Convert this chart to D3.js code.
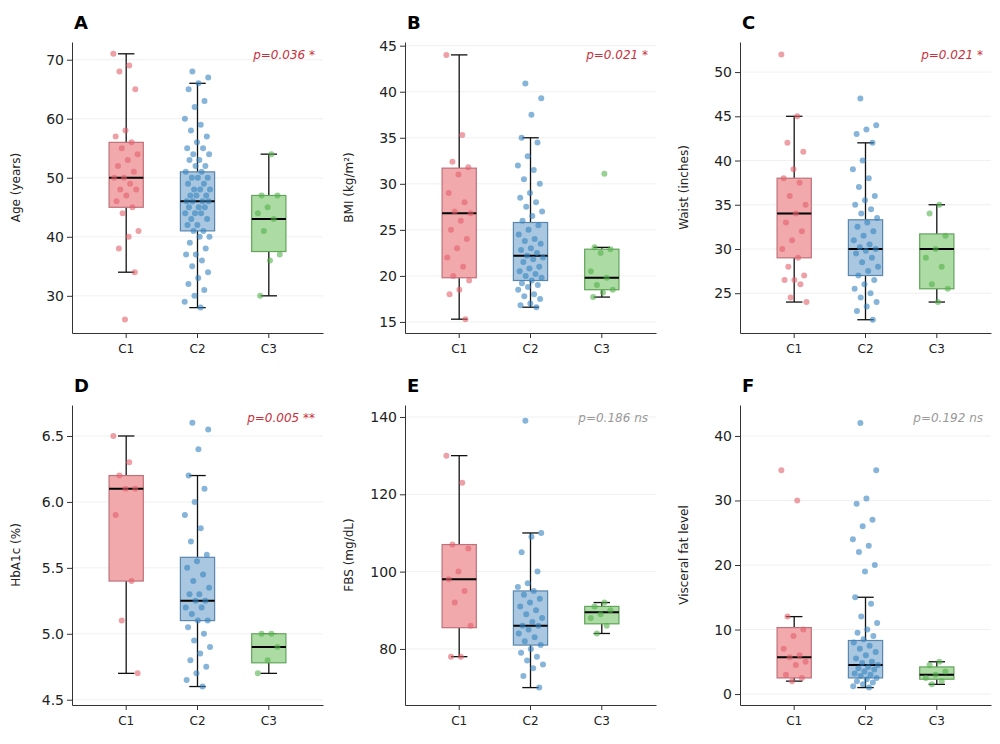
<!DOCTYPE html>
<html><head><meta charset="utf-8">
<script src="https://cdn.jsdelivr.net/npm/d3@7"></script>
<style>body{margin:0;background:#fff;font-family:"DejaVu Sans",sans-serif}</style>
</head><body><svg id="chart" width="1000" height="744"></svg>
<script>
const groups = ["C1", "C2", "C3"];
const letters = ["A", "B", "C", "D", "E", "F"];
const yLabels = ["Age (years)", "BMI (kg/m²)", "Waist (inches)", "HbA1c (%)", "FBS (mg/dL)", "Visceral fat level"];
const pTexts = ["p=0.036 *", "p=0.021 *", "p=0.021 *", "p=0.005 **", "p=0.186 ns", "p=0.192 ns"];
const pSignificant = [true, true, true, true, false, false];
const yDomains = [[23.7, 73], [13.8, 45.4], [20.5, 53.4], [4.46, 6.735], [65.5, 143.1], [-1.7, 44.8]];
const yTicks = [[30, 40, 50, 60, 70], [15, 20, 25, 30, 35, 40, 45], [25, 30, 35, 40, 45, 50],
  [4.5, 5.0, 5.5, 6.0, 6.5], [80, 100, 120, 140], [0, 10, 20, 30, 40]];
// box stats per group: [whiskerLow, q1, median, q3, whiskerHigh]
const boxStats = [
  [[34, 45, 50, 56, 71], [28, 41, 46, 51, 66], [30, 37.5, 43, 47, 54]],
  [[15.3, 19.8, 26.8, 31.7, 44], [16.6, 19.5, 22.2, 25.8, 35], [17.7, 18.5, 19.8, 22.9, 23.1]],
  [[24, 29, 34, 38, 45], [22, 27, 30, 33.3, 42], [24, 25.5, 30, 31.7, 35]],
  [[4.7, 5.4, 6.1, 6.2, 6.5], [4.6, 5.1, 5.25, 5.58, 6.2], [4.7, 4.78, 4.9, 5.0, 5.0]],
  [[78, 85.5, 98, 107, 130], [70, 81, 86, 95, 110], [84, 86.5, 89.5, 91, 92]],
  [[2, 2.5, 5.7, 10.3, 12], [1, 2.5, 4.5, 8.3, 15], [1.5, 2.3, 3, 4.2, 5]]
];
const points = [
  [[71,69,68,65,58,57,56,55,54,53,52,51,50,50,49,48,48,47,46,45,44,41,40,38,34,26],
   [68,67,66,65,63,62,60,59,58,57,56,55,55,54,54,53,53,52,52,51,51,50,50,50,49,49,48,48,48,47,47,47,46,46,46,46,45,45,45,44,44,44,43,43,42,42,41,41,40,40,39,38,37,37,36,35,34,33,32,31,30,29,28],
   [54,47,47,45,44,43,41,37,36,30]],
  [[44,35.3,32.4,31.8,31,29,28,27,26.8,26,25,24,23,22,21,20,19.5,18.5,18,15.3],
   [40.9,39.3,37.5,35,34.5,33,32,31.5,30.5,30,29,28.5,28,27.5,27,26.5,26,25.5,25,24.5,24,23.8,23.5,23,22.8,22.5,22.2,22,21.8,21.5,21,20.8,20.5,20.2,20,19.8,19.5,19.2,19,18.8,18.5,18,17.8,17.5,17,16.8,16.6],
   [31.1,23.1,22.9,22.5,20.5,19.8,19,18.5,18.2,17.7]],
  [[52,45,42,41,39,38,37.5,36,35,34,33,32,31,30,29,28,27,26.5,26.5,26,24.5,24],
   [47,44,43.5,43,42,40,39,38,37,36,35.5,35,34.5,34,33.5,33,32.5,32,31.5,31,30.5,30.2,30,29.8,29.5,29,28.5,28,27.5,27,26.5,26,25.5,25,24.5,24,23.5,23,22],
   [35,34,31.5,30,29,28,26,25.5,24]],
  [[6.5,6.3,6.2,6.1,6.1,5.9,5.4,5.1,4.7],
   [6.6,6.55,6.4,6.2,6.1,6.0,5.9,5.8,5.7,5.6,5.55,5.5,5.45,5.4,5.35,5.3,5.3,5.25,5.25,5.2,5.2,5.15,5.1,5.1,5.05,5.0,4.95,4.9,4.85,4.8,4.75,4.7,4.65,4.6],
   [5.0,5.0,4.9,4.8,4.7]],
  [[130,123,107,106,100,98,95,92,86,78,78],
   [139,110,109,105,100,97,96,95,94,93,92,91,90,89,88,87,86,86,85,84,83,82,81,80,79,78,77,76,75,73,70],
   [92,91,90,89,88,86,84]],
  [[34.7,30,12,10,9,7,6,5.7,5,4.5,3,2.5,2],
   [42,34.7,30.3,29.5,27,26,24,23,22,20,19,15,14,12,11,10,9.5,9,8.5,8,7.5,7,6.5,6,5.5,5,4.8,4.5,4.2,4,3.8,3.5,3.2,3,2.8,2.5,2.3,2,1.8,1.5,1.2,1],
   [5,4.5,3.5,3,2.5,2,1.5]]
];

const fills = ["#f2a9ac", "#a9c7e0", "#acdca4"];
const strokes = ["#c0707a", "#5a86ad", "#62a45a"];
const dots = ["#e2606c", "#3583c0", "#55b04c"];

const svg = d3.select("#chart");
const lefts = [72, 405, 740], tops = [42, 405], W = 251, heights = [291, 300];

letters.forEach((L, k) => {
  const col = k % 3, row = Math.floor(k / 3);
  const H = heights[row];
  const g = svg.append("g").attr("transform", `translate(${lefts[col]},${tops[row]})`);
  const x = d3.scaleBand().domain(groups).range([0, W]).padding(0.52);
  const y = d3.scaleLinear().domain(yDomains[k]).range([H, 0]);
  const bw = x.bandwidth();

  g.selectAll(".grid").data(yTicks[k]).join("line")
    .attr("x1", 0).attr("x2", W).attr("y1", d => y(d)).attr("y2", d => y(d))
    .attr("stroke", "#ececec").attr("stroke-width", 0.8);

  groups.forEach((grp, i) => {
    const s = boxStats[k][i], cx = x(grp) + bw / 2;
    g.append("line").attr("x1", cx).attr("x2", cx).attr("y1", y(s[0])).attr("y2", y(s[1])).attr("stroke", "#111").attr("stroke-width", 1.3);
    g.append("line").attr("x1", cx).attr("x2", cx).attr("y1", y(s[3])).attr("y2", y(s[4])).attr("stroke", "#111").attr("stroke-width", 1.3);
    [s[0], s[4]].forEach(v => g.append("line").attr("x1", cx - bw * 0.24).attr("x2", cx + bw * 0.24)
      .attr("y1", y(v)).attr("y2", y(v)).attr("stroke", "#111").attr("stroke-width", 1.3));
    g.append("rect").attr("x", x(grp)).attr("width", bw).attr("y", y(s[3])).attr("height", y(s[1]) - y(s[3]))
      .attr("fill", fills[i]).attr("stroke", strokes[i]).attr("stroke-width", 1.2);
    g.append("line").attr("x1", x(grp)).attr("x2", x(grp) + bw).attr("y1", y(s[2])).attr("y2", y(s[2]))
      .attr("stroke", "#000").attr("stroke-width", 2);
    g.selectAll(null).data(points[k][i]).join("circle")
      .attr("cx", (d, j) => cx + (((j * 0.618034 + i * 0.3) % 1) - 0.5) * bw * 0.75)
      .attr("cy", d => y(d)).attr("r", 3).attr("fill", dots[i]).attr("fill-opacity", 0.6);
  });

  const ya = g.append("g").call(d3.axisLeft(y).tickValues(yTicks[k]).tickSize(5).tickSizeOuter(0)
    .tickFormat(k === 3 ? d3.format(".1f") : d3.format("d")));
  const xa = g.append("g").attr("transform", `translate(0,${H})`).call(d3.axisBottom(x).tickSize(5).tickSizeOuter(0));
  [ya, xa].forEach(a => { a.select(".domain").attr("stroke", "#333"); a.selectAll("line").attr("stroke", "#333"); });
  ya.selectAll("text").attr("font-size", 14).attr("fill", "#222").attr("font-family", "DejaVu Sans");
  xa.selectAll("text").attr("font-size", 12).attr("fill", "#222").attr("font-family", "DejaVu Sans").attr("dy", "1em");

  g.append("text").attr("transform", `translate(-52,${H / 2}) rotate(-90)`).attr("text-anchor", "middle")
    .attr("font-size", 12).attr("fill", "#222").text(yLabels[k]);
  g.append("text").attr("x", 2).attr("y", -13).attr("font-size", 18).attr("font-weight", "bold").text(L);
  g.append("text").attr("x", W - 8).attr("y", 17).attr("text-anchor", "end").attr("font-size", 12)
    .attr("font-style", "italic").attr("fill", pSignificant[k] ? "#c8303a" : "#999").text(pTexts[k]);
});
</script></body></html>
